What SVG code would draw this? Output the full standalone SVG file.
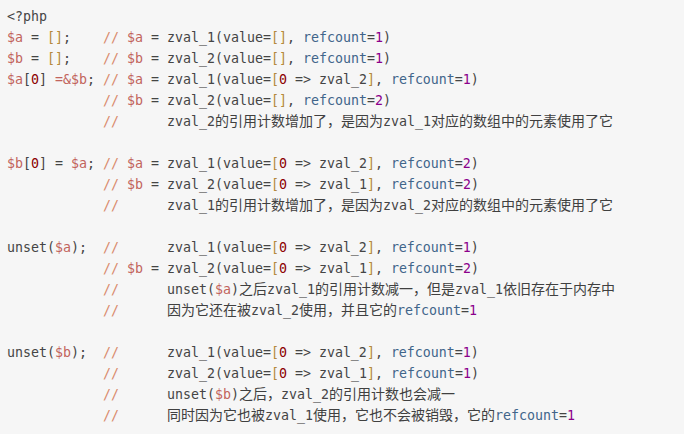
<svg xmlns="http://www.w3.org/2000/svg" width="684" height="434" viewBox="0 0 684 434">
<style>
text{font-family:"DejaVu Sans Mono","Liberation Mono",monospace;font-size:13.29px;fill:#454545;white-space:pre}
.v{fill:#c2645c}
.c{fill:#d98a6c}
.b{fill:#b58a3c}
.z{fill:#8b0000}
.n{fill:#8b008b}
.k{fill:#41658a}
.h{font-family:"Noto Sans CJK SC","Noto Sans CJK TC",sans-serif;font-size:14px;fill:#404040}
</style>
<rect x="0" y="0" width="684" height="434" fill="#f6f6f6"/>
<g id="code">
<text x="7" y="21">&lt;?php</text>
<text x="7" y="42"><tspan class="v">$a</tspan> = <tspan class="b">[]</tspan>;    <tspan class="c">//</tspan> <tspan class="v">$a</tspan> = zval_1(value=<tspan class="b">[]</tspan>, <tspan class="k">refcount</tspan>=<tspan class="n">1</tspan>)</text>
<text x="7" y="63"><tspan class="v">$b</tspan> = <tspan class="b">[]</tspan>;    <tspan class="c">//</tspan> <tspan class="v">$b</tspan> = zval_2(value=<tspan class="b">[]</tspan>, <tspan class="k">refcount</tspan>=<tspan class="n">1</tspan>)</text>
<text x="7" y="84"><tspan class="v">$a</tspan>[<tspan class="z">0</tspan>] <tspan class="v">=&amp;$b</tspan>; <tspan class="c">//</tspan> <tspan class="v">$a</tspan> = zval_1(value=<tspan class="b">[</tspan><tspan class="z">0</tspan> =&gt; zval_2<tspan class="b">]</tspan>, <tspan class="k">refcount</tspan>=<tspan class="n">1</tspan>)</text>
<text x="103" y="105"><tspan class="c">//</tspan> <tspan class="v">$b</tspan> = zval_2(value=<tspan class="b">[]</tspan>, <tspan class="k">refcount</tspan>=<tspan class="n">2</tspan>)</text>
<text y="126"><tspan x="103" class="c">//</tspan><tspan x="167">zval_2</tspan><tspan x="215" class="h">的引用计数增加了，是因为</tspan><tspan x="383">zval_1</tspan><tspan x="431" class="h">对应的数组中的元素使用了它</tspan></text>

<text x="7" y="168"><tspan class="v">$b</tspan>[<tspan class="z">0</tspan>] = <tspan class="v">$a</tspan>; <tspan class="c">//</tspan> <tspan class="v">$a</tspan> = zval_1(value=<tspan class="b">[</tspan><tspan class="z">0</tspan> =&gt; zval_2<tspan class="b">]</tspan>, <tspan class="k">refcount</tspan>=<tspan class="n">2</tspan>)</text>
<text x="103" y="189"><tspan class="c">//</tspan> <tspan class="v">$b</tspan> = zval_2(value=<tspan class="b">[</tspan><tspan class="z">0</tspan> =&gt; zval_1<tspan class="b">]</tspan>, <tspan class="k">refcount</tspan>=<tspan class="n">2</tspan>)</text>
<text y="210"><tspan x="103" class="c">//</tspan><tspan x="167">zval_1</tspan><tspan x="215" class="h">的引用计数增加了，是因为</tspan><tspan x="383">zval_2</tspan><tspan x="431" class="h">对应的数组中的元素使用了它</tspan></text>

<text x="7" y="252">unset(<tspan class="v">$a</tspan>);  <tspan class="c">//</tspan>      zval_1(value=<tspan class="b">[</tspan><tspan class="z">0</tspan> =&gt; zval_2<tspan class="b">]</tspan>, <tspan class="k">refcount</tspan>=<tspan class="n">1</tspan>)</text>
<text x="103" y="273"><tspan class="c">//</tspan> <tspan class="v">$b</tspan> = zval_2(value=<tspan class="b">[</tspan><tspan class="z">0</tspan> =&gt; zval_1<tspan class="b">]</tspan>, <tspan class="k">refcount</tspan>=<tspan class="n">2</tspan>)</text>
<text y="294"><tspan x="103" class="c">//</tspan><tspan x="167">unset(</tspan><tspan class="v">$a</tspan><tspan>)</tspan><tspan x="239" class="h">之后</tspan><tspan x="267">zval_1</tspan><tspan x="315" class="h">的引用计数减一，但是</tspan><tspan x="455">zval_1</tspan><tspan x="503" class="h">依旧存在于内存中</tspan></text>
<text y="315"><tspan x="103" class="c">//</tspan><tspan x="167" class="h">因为它还在被</tspan><tspan x="251">zval_2</tspan><tspan x="299" class="h">使用，并且它的</tspan><tspan x="397" class="k">refcount</tspan><tspan>=</tspan><tspan class="n">1</tspan></text>

<text x="7" y="357">unset(<tspan class="v">$b</tspan>);  <tspan class="c">//</tspan>      zval_1(value=<tspan class="b">[</tspan><tspan class="z">0</tspan> =&gt; zval_2<tspan class="b">]</tspan>, <tspan class="k">refcount</tspan>=<tspan class="n">1</tspan>)</text>
<text x="103" y="378"><tspan class="c">//</tspan>      zval_2(value=<tspan class="b">[</tspan><tspan class="z">0</tspan> =&gt; zval_1<tspan class="b">]</tspan>, <tspan class="k">refcount</tspan>=<tspan class="n">1</tspan>)</text>
<text y="399"><tspan x="103" class="c">//</tspan><tspan x="167">unset(</tspan><tspan class="v">$b</tspan><tspan>)</tspan><tspan x="239" class="h">之后，</tspan><tspan x="281">zval_2</tspan><tspan x="329" class="h">的引用计数也会减一</tspan></text>
<text y="420"><tspan x="103" class="c">//</tspan><tspan x="167" class="h">同时因为它也被</tspan><tspan x="265">zval_1</tspan><tspan x="313" class="h">使用，它也不会被销毁，它的</tspan><tspan x="495" class="k">refcount</tspan><tspan>=</tspan><tspan class="n">1</tspan></text>
</g>
</svg>
